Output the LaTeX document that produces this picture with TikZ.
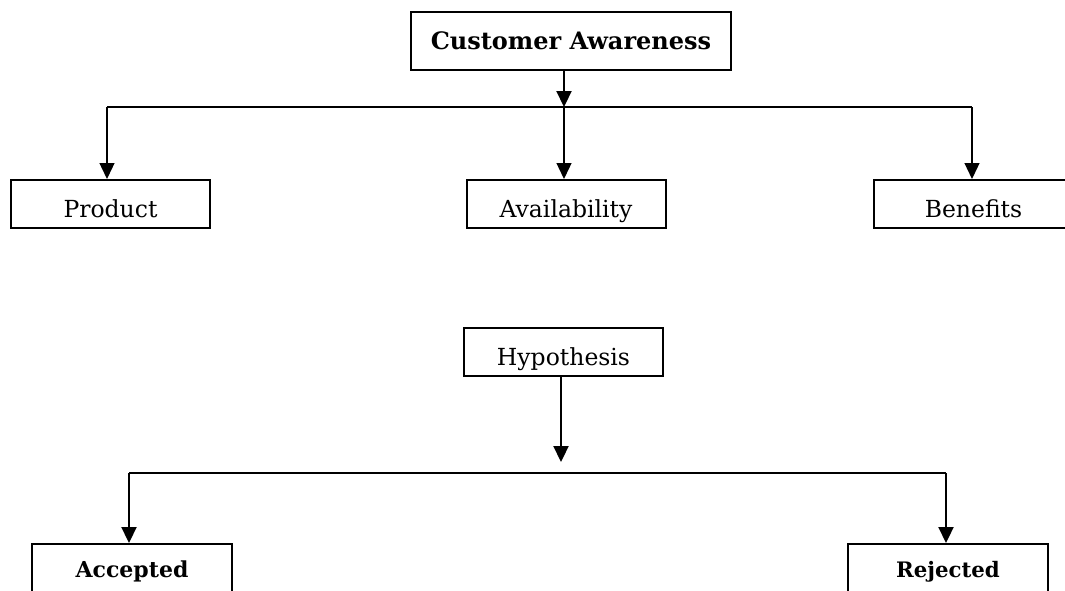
\documentclass[tikz,border=0pt]{standalone}
\usepackage{fontspec}
\setmainfont{DejaVu Serif}
\usetikzlibrary{arrows.meta}
\newcommand\lowered[2]{\raisebox{#1}{#2}}
\begin{document}
\begin{tikzpicture}[x=1pt,y=-1pt,
  box/.style={draw, line width=2pt, inner sep=0pt, text height=17pt, text depth=0pt, minimum height=48pt, minimum width=199pt, font=\fontsize{23.5}{28}\selectfont},
  bbox/.style={box, text height=15pt, font=\fontsize{22}{26}\selectfont\bfseries},
  thin/.style={line width=1.3pt},
  thick/.style={line width=2.2pt},
  arr/.style={-{Triangle[width=15pt,length=16pt]}}]
\useasboundingbox (0,0) rectangle (1065,590);
\clip (0,0) rectangle (1065,590);
% top tree
\node[bbox, line width=2.5pt, minimum width=320pt, minimum height=58pt, font=\fontsize{24}{28}\selectfont\bfseries] (ca) at (571,41) {\lowered{-1pt}{Customer Awareness}};
\node[box] (prod) at (110.5,204) {\lowered{-4.5pt}{Product}};
\node[box] (avail) at (566,204) {\lowered{-4.5pt}{Availability}};
\node[box] (ben) at (973.5,204) {\lowered{-4.5pt}{Benefits}};
\coordinate (j1) at (564,107);
\coordinate (l1) at (107,107);
\coordinate (r1) at (972,107);
\draw[thick, arr] (ca.south -| j1) -- (j1);
\draw[thin] (l1) -- (r1);
\draw[thin, arr] (l1) -- (prod.north -| l1);
\draw[thin, arr] (j1) -- (avail.north -| j1);
\draw[thin, arr] (r1) -- (ben.north -| r1);
% bottom tree
\node[box] (hyp) at (563.5,352) {\lowered{-4.5pt}{Hypothesis}};
\node[bbox, minimum width=200pt, minimum height=52pt] (acc) at (132,570) {Accepted};
\node[bbox, minimum width=200pt, minimum height=52pt, font=\fontsize{21.3}{26}\selectfont\bfseries] (rej) at (948,570) {Rejected};
\coordinate (j2) at (561,462);
\coordinate (l2) at (129,473);
\coordinate (r2) at (946,473);
\draw[thick, arr] (hyp.south -| j2) -- (j2);
\draw[thick] (l2) -- (r2);
\draw[thick, arr] (l2) -- (acc.north -| l2);
\draw[thick, arr] (r2) -- (rej.north -| r2);
\end{tikzpicture}
\end{document}
